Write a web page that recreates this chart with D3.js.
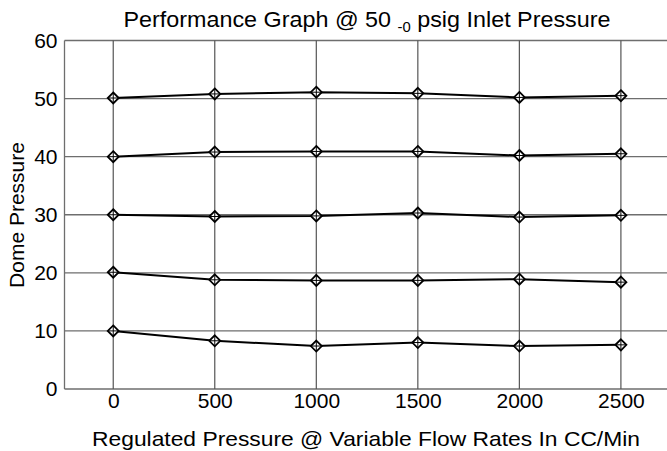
<!DOCTYPE html>
<html><head><meta charset="utf-8">
<script src="https://cdn.jsdelivr.net/npm/d3@7"></script>
<style>body{margin:0;background:#fff}svg{display:block}text{font-family:"Liberation Sans",Arial,sans-serif;fill:#000}</style>
</head><body><svg id="c" width="667" height="451"></svg>
<script>
const flowRates = [0, 500, 1000, 1500, 2000, 2500];
const yTicks = [0, 10, 20, 30, 40, 50, 60];
const series50 = [50.1, 50.8, 51.1, 50.9, 50.2, 50.5];
const series40 = [40.0, 40.8, 40.9, 40.9, 40.2, 40.5];
const series30 = [30.0, 29.7, 29.8, 30.3, 29.6, 29.9];
const series20 = [20.1, 18.8, 18.7, 18.7, 18.9, 18.4];
const series10 = [10.0, 8.3, 7.4, 8.0, 7.4, 7.6];
const allSeries = [series50, series40, series30, series20, series10];

const FS = 21;
const svg = d3.select("#c");
const x = d3.scaleLinear().domain([-240, 2727]).range([64.5, 667]);
const y = d3.scaleLinear().domain([0, 60]).range([389, 40.5]);

// grid
svg.append("g").selectAll("line").data(yTicks).join("line")
  .attr("x1", 64.5).attr("x2", 667).attr("y1", d => y(d)).attr("y2", d => y(d))
  .attr("stroke", "#6e6e6e").attr("stroke-width", 1.3);
svg.append("g").selectAll("line").data(flowRates).join("line")
  .attr("x1", d => x(d)).attr("x2", d => x(d)).attr("y1", y(60)).attr("y2", y(0))
  .attr("stroke", "#555").attr("stroke-width", 1.2);
svg.append("line").attr("x1", 64.5).attr("x2", 64.5).attr("y1", y(60)).attr("y2", y(0))
  .attr("stroke", "#6e6e6e").attr("stroke-width", 1.3);

// axes labels via d3 axes
const yAxis = svg.append("g").attr("transform", "translate(64.5,0)")
  .call(d3.axisLeft(y).tickValues(yTicks).tickSize(0).tickPadding(7));
yAxis.select(".domain").remove();
yAxis.selectAll("text").attr("font-size", FS).style("font-family", '"Liberation Sans",Arial,sans-serif').attr("fill", "#000");

const xAxis = svg.append("g").attr("transform", "translate(0,389)")
  .call(d3.axisBottom(x).tickValues(flowRates).tickFormat(d3.format("d")).tickSize(0).tickPadding(4));
xAxis.select(".domain").remove();
xAxis.selectAll("text").attr("font-size", FS).style("font-family", '"Liberation Sans",Arial,sans-serif').attr("fill", "#000");

// lines
const line = d3.line().x((d, i) => x(flowRates[i])).y(d => y(d));
svg.append("g").selectAll("path").data(allSeries).join("path")
  .attr("d", line).attr("fill", "none").attr("stroke", "#000").attr("stroke-width", 2);

// markers: diamond with plus
const pts = allSeries.flatMap(s => s.map((v, i) => [flowRates[i], v]));
const m = svg.append("g").selectAll("g").data(pts).join("g")
  .attr("transform", d => `translate(${x(d[0])},${y(d[1])})`);
m.append("path").attr("d", "M0,-5.5L5.5,0L0,5.5L-5.5,0Z").attr("fill", "#fff").attr("stroke", "#000").attr("stroke-width", 1.8);
m.append("path").attr("d", "M-5,0H5M0,-5V5").attr("stroke", "#000").attr("stroke-width", 1);

// title
const t = svg.append("text").attr("x", 367).attr("y", 27).attr("text-anchor", "middle").attr("font-size", 22)
  .attr("textLength", 487).attr("lengthAdjust", "spacingAndGlyphs");
t.append("tspan").text("Performance Graph @ 50 ");
t.append("tspan").attr("font-size", 14).attr("dy", 5).text("-0");
t.append("tspan").attr("dy", -5).text(" psig Inlet Pressure");

svg.append("text").attr("x", 366).attr("y", 446).attr("text-anchor", "middle").attr("font-size", FS)
  .attr("textLength", 548).attr("lengthAdjust", "spacingAndGlyphs")
  .text("Regulated Pressure @ Variable Flow Rates In CC/Min");
svg.append("text").attr("transform", "translate(24,215) rotate(-90)").attr("text-anchor", "middle").attr("font-size", FS)
  .text("Dome Pressure");
</script></body></html>
